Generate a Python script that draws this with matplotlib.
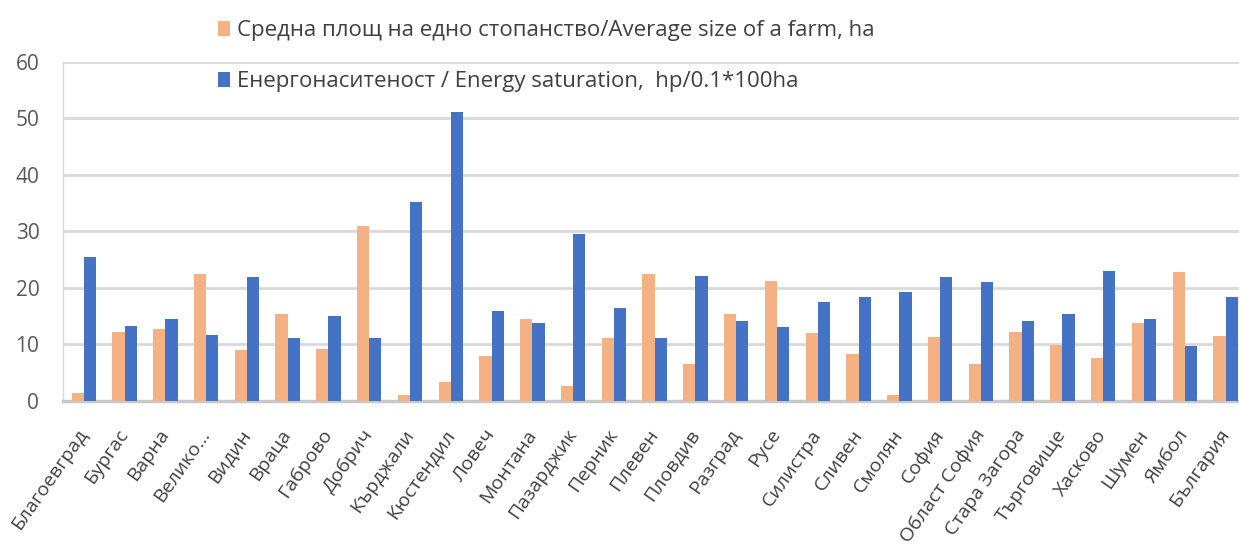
import matplotlib
matplotlib.use("Agg")
import matplotlib.pyplot as plt
import numpy as np

plt.rcParams["font.family"] = ["Open Sans", "DejaVu Sans"]

# Области на България + средно за страната
regions = [
    "Благоевград", "Бургас", "Варна", "Велико...", "Видин", "Враца", "Габрово",
    "Добрич", "Кърджали", "Кюстендил", "Ловеч", "Монтана", "Пазарджик", "Перник",
    "Плевен", "Пловдив", "Разград", "Русе", "Силистра", "Сливен", "Смолян",
    "София", "Област София", "Стара Загора", "Търговище", "Хасково", "Шумен",
    "Ямбол", "България",
]

# Средна площ на едно стопанство, ha
farm_size = [
    1.3, 12.2, 12.7, 22.4, 8.9, 15.4, 9.2,
    30.9, 0.9, 3.2, 7.9, 14.5, 2.6, 11.0,
    22.4, 6.5, 15.3, 21.1, 12.0, 8.2, 0.9,
    11.2, 6.4, 12.2, 9.9, 7.5, 13.8,
    22.8, 11.5,
]

# Енергонаситеност, hp/0.1*100ha
energy = [
    25.5, 13.2, 14.5, 11.6, 21.8, 11.0, 15.0,
    11.1, 35.1, 51.1, 15.8, 13.7, 29.5, 16.4,
    11.0, 22.1, 14.1, 13.0, 17.4, 18.3, 19.2,
    21.9, 21.0, 14.0, 15.4, 23.0, 14.4,
    9.6, 18.3,
]

LABEL_SIZE = "Средна площ на едно стопанство/Average size of a farm, ha"
LABEL_ENERGY = "Енергонаситеност / Energy saturation,  hp/0.1*100ha"

ORANGE = "#F4B183"
BLUE = "#4472C4"
GRID = "#D9D9D9"
TEXT = "#404040"

fig = plt.figure(figsize=(12.39, 5.47), dpi=100)
ax = fig.add_axes([0.0508, 0.2678, 0.9492, 0.6194])

x = np.arange(len(regions))
w = 0.3
b1 = ax.bar(x - w / 2, farm_size, width=w, color=ORANGE, label=LABEL_SIZE, zorder=3)
b2 = ax.bar(x + w / 2, energy, width=w, color=BLUE, label=LABEL_ENERGY, zorder=3)

ax.set_ylim(0, 60)
ax.set_yticks(range(0, 61, 10))
ax.set_xlim(-0.51, 28.33)
ax.yaxis.grid(True, color=GRID, linewidth=2, zorder=0)
ax.set_axisbelow(True)

for side in ("top", "right"):
    ax.spines[side].set_visible(False)
ax.spines["left"].set_color(GRID)
ax.spines["left"].set_linewidth(1)
ax.spines["bottom"].set_color("#C8C8C8")
ax.spines["bottom"].set_linewidth(2.5)

ax.tick_params(axis="y", length=0, pad=17, labelsize=15, labelcolor="#595959")
ax.tick_params(axis="x", length=0, pad=22, labelcolor=TEXT)
ax.set_xticks(x)
ax.set_xticklabels(regions, rotation=55, ha="right", va="center",
                   rotation_mode="anchor", fontsize=14)

fig.legend(
    handles=[b1, b2],
    loc="upper left",
    bbox_to_anchor=(218 / 1239, 1 - 20 / 547),
    frameon=False,
    fontsize=16,
    labelcolor=TEXT,
    handlelength=0.55,
    handleheight=0.65,
    handletextpad=0.3,
    labelspacing=1.35,
    borderpad=0,
    borderaxespad=0,
)

fig.savefig("out.png", dpi=100, facecolor="white")
